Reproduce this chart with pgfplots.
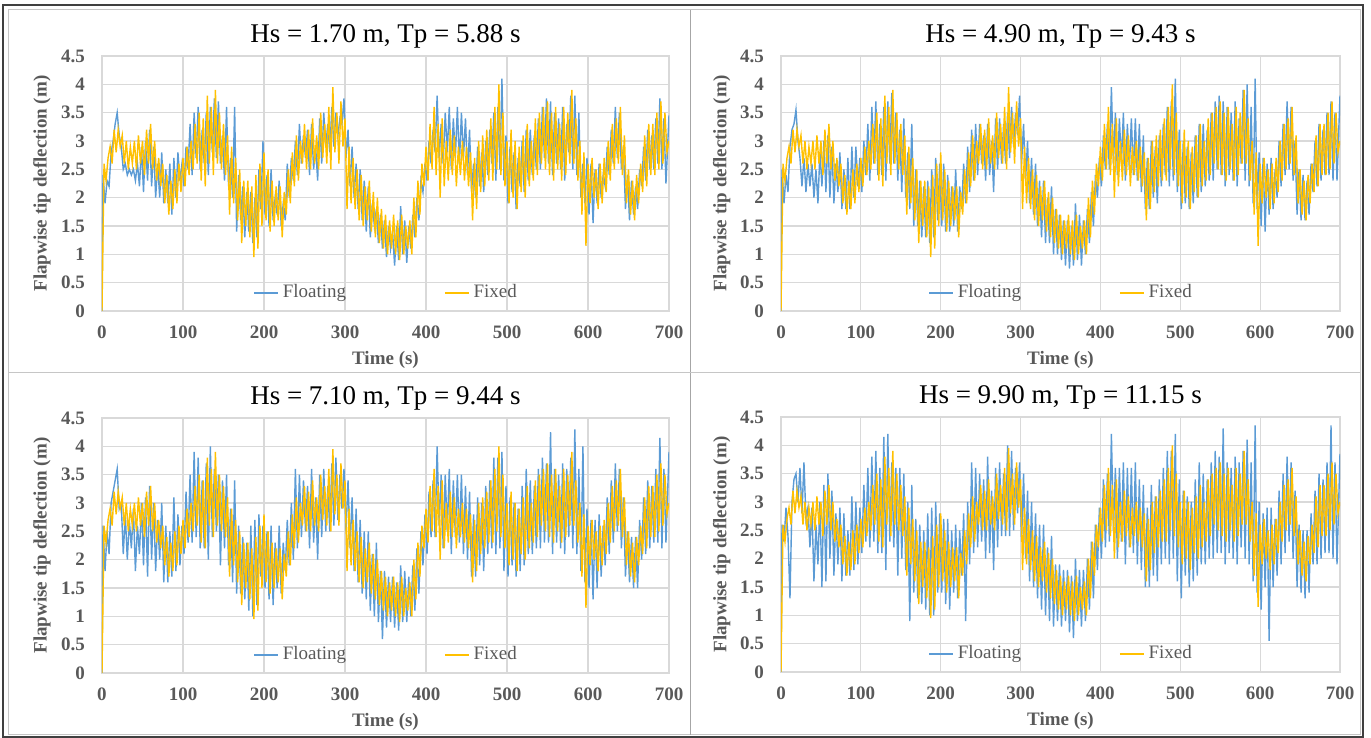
\documentclass[border=0pt]{standalone}
\usepackage{fontspec}
\setmainfont{Liberation Serif}
\usepackage{pgfplots}
\usepackage{pgfplotstable}
\pgfplotsset{compat=1.18}

\definecolor{floatc}{HTML}{5B9BD5}
\definecolor{fixc}{HTML}{FFC000}
\definecolor{gridc}{HTML}{D9D9D9}
\definecolor{labc}{HTML}{595959}

% t = time of fixed, tf = time of floating samples
\pgfplotstableread{
t tf fx fa fb fc fd
0 0 0 0 0 0 0
2.5 1.25 2.6 2.4 2.5 2.6 2.6
5 3.75 2.3 1.9 1.9 1.8 2.3
7.5 6.25 2.7 2.3 2.4 2.5 2.9
10 8.75 2.9 2.2 2.1 2.1 2.4
12.5 11.25 2.6 2.8 2.9 3.0 1.3
15 13.75 3.2 3.0 3.2 3.2 3.0
17.5 16.25 2.8 3.3 3.3 3.4 3.4
20 18.75 3.2 3.5 3.55 3.6 3.5
22.5 21.25 2.9 3.1 3.0 2.9 3.0
25 23.75 3.1 2.9 2.7 3.0 3.6
27.5 26.25 2.6 2.5 2.2 2.1 2.8
30 28.75 3.0 2.6 2.7 2.8 3.7
32.5 31.25 2.5 2.4 2.1 2.0 2.7
35 33.75 2.9 2.5 2.6 2.7 2.9
37.5 36.25 2.6 2.4 2.2 2.2 2.2
40 38.75 3.0 2.5 2.6 2.9 2.9
42.5 41.25 2.5 2.3 2.0 1.8 1.6
45 43.75 3.1 2.6 2.5 2.6 2.6
47.5 46.25 2.6 2.2 1.9 2.1 1.9
50 48.75 3.0 2.9 2.8 3.0 3.0
52.5 51.25 2.4 2.1 2.2 1.9 1.5
55 53.75 3.2 3.0 3.0 3.1 3.3
57.5 56.25 2.6 2.3 2.1 1.7 1.6
60 58.75 3.3 3.2 3.1 3.3 3.5
62.5 61.25 2.5 2.2 2.0 2.0 2.0
65 63.75 3.0 2.9 2.9 3.0 3.2
67.5 66.25 2.3 2.0 1.9 1.8 1.7
70 68.75 2.7 2.6 2.6 2.7 2.8
72.5 71.25 2.2 2.0 2.1 2.0 1.9
75 73.75 2.6 2.8 2.8 3.0 2.9
77.5 76.25 1.9 1.9 1.8 1.6 1.6
80 78.75 2.4 2.5 2.5 2.6 2.8
82.5 81.25 1.7 1.9 1.8 1.6 1.7
85 83.75 2.3 2.6 2.7 2.5 2.5
87.5 86.25 1.8 1.7 1.8 1.7 1.7
90 88.75 2.5 2.7 2.9 3.1 3.1
92.5 91.25 1.9 2.0 2.0 1.8 1.8
95 93.75 2.6 2.8 2.9 2.8 3.0
97.5 96.25 2.1 2.3 2.2 1.9 1.9
100 98.75 2.7 2.6 2.7 2.6 2.9
102.5 101.25 2.2 2.2 2.1 2.1 2.1
105 103.75 2.9 2.9 3.0 3.2 3.3
107.5 106.25 2.4 2.5 2.4 2.3 2.3
110 108.75 3.0 3.3 3.3 3.5 3.6
112.5 111.25 2.5 2.4 2.3 2.3 2.2
115 113.75 3.3 3.5 3.6 3.9 3.8
117.5 116.25 2.6 2.7 2.6 2.4 2.3
120 118.75 3.5 3.6 3.7 3.8 3.9
122.5 121.25 2.3 2.5 2.4 2.2 2.1
125 123.75 3.4 3.2 3.3 3.4 3.6
127.5 126.25 2.2 2.6 2.4 2.2 2.1
130 128.75 3.8 3.5 3.6 3.7 4.15
132.5 131.25 2.6 2.4 2.3 2.0 1.8
135 133.75 3.6 3.6 3.7 4.0 4.2
137.5 136.25 2.4 2.8 2.6 2.4 2.3
140 138.75 3.9 3.75 3.85 3.6 3.7
142.5 141.25 2.6 2.7 2.6 2.5 2.2
145 143.75 3.5 3.7 3.5 3.5 3.6
147.5 146.25 2.5 2.6 2.3 1.9 1.7
150 148.75 3.3 3.1 3.2 3.4 3.6
152.5 151.25 2.4 2.3 2.1 2.2 2.0
155 153.75 3.1 3.6 3.4 3.5 3.5
157.5 156.25 1.7 2.2 2.0 1.9 1.8
160 158.75 2.9 2.7 2.8 2.9 3.0
162.5 161.25 1.9 2.0 1.8 1.6 0.9
165 163.75 2.7 3.6 3.3 3.4 3.3
167.5 166.25 1.6 1.4 1.5 1.4 1.4
170 168.75 2.5 2.4 2.5 2.6 2.7
172.5 171.25 1.2 1.6 1.5 1.4 1.3
175 173.75 2.3 2.2 2.3 2.4 2.6
177.5 176.25 1.5 1.3 1.3 1.3 1.2
180 178.75 2.3 2.1 2.2 2.3 2.5
182.5 181.25 1.3 1.4 1.3 1.1 1.1
185 183.75 2.2 2.1 2.3 2.6 2.8
187.5 186.25 0.95 1.2 1.2 1.0 1.0
190 188.75 2.4 2.0 2.5 2.7 2.9
192.5 191.25 1.1 1.3 1.3 1.2 1.0
195 193.75 2.6 2.5 2.7 2.8 3.0
197.5 196.25 1.5 1.8 1.6 1.7 1.4
200 198.75 2.8 3.0 2.6 2.6 2.8
202.5 201.25 1.6 1.7 1.5 1.5 1.4
205 203.75 2.5 2.4 2.6 2.5 2.7
207.5 206.25 1.4 1.5 1.4 1.3 1.2
210 208.75 2.3 2.5 2.4 2.6 2.7
212.5 211.25 1.5 1.6 1.4 1.2 1.1
215 213.75 2.2 2.0 2.2 2.3 2.5
217.5 216.25 1.6 1.7 1.5 1.5 1.4
220 218.75 2.2 2.3 2.5 2.6 2.6
222.5 221.25 1.3 1.5 1.4 1.4 1.3
225 223.75 2.1 1.9 2.2 2.3 2.5
227.5 226.25 1.7 1.6 1.8 1.8 1.7
230 228.75 2.5 2.6 2.6 2.7 2.8
232.5 231.25 1.9 2.0 1.9 1.9 0.9
235 233.75 2.8 2.7 2.9 3.0 3.0
237.5 236.25 2.2 2.3 2.1 2.0 1.9
240 238.75 3.1 3.0 3.2 3.6 3.7
242.5 241.25 2.3 2.4 2.3 2.2 2.1
245 243.75 3.0 3.3 3.3 3.5 3.6
247.5 246.25 2.6 2.6 2.4 2.4 2.2
250 248.75 3.3 3.1 3.3 3.4 3.5
252.5 251.25 2.5 2.7 2.6 2.5 2.3
255 253.75 3.2 3.2 3.1 3.3 3.4
257.5 256.25 2.5 2.4 2.3 2.2 2.0
260 258.75 3.4 3.3 3.3 3.6 3.8
262.5 261.25 2.6 2.5 2.4 2.3 2.1
265 263.75 3.1 2.9 3.0 3.1 3.2
267.5 266.25 2.5 2.3 2.1 2.0 1.8
270 268.75 3.5 3.4 3.4 3.5 3.6
272.5 271.25 2.7 2.6 2.5 2.4 2.2
275 273.75 3.3 3.5 3.4 3.6 3.7
277.5 276.25 2.6 2.9 2.6 2.5 2.4
280 278.75 3.6 3.3 3.3 3.3 3.5
282.5 281.25 2.5 2.8 2.6 2.5 2.4
285 283.75 3.95 3.6 3.5 3.7 4.0
287.5 286.25 2.8 2.9 2.7 2.6 2.4
290 288.75 3.5 3.5 3.6 3.8 3.9
292.5 291.25 2.6 3.1 2.9 2.7 2.5
295 293.75 3.7 3.4 3.5 3.5 3.6
297.5 296.25 2.9 3.3 3.1 2.9 2.8
300 298.75 3.4 3.75 3.8 3.6 3.7
302.5 301.25 1.8 2.7 2.6 2.5 2.3
305 303.75 2.9 3.2 3.3 3.4 3.5
307.5 306.25 1.9 2.2 2.3 2.2 2.0
310 308.75 2.7 2.9 3.0 3.1 3.2
312.5 311.25 1.8 2.0 1.9 1.8 1.6
315 313.75 2.5 2.6 2.7 2.9 3.0
317.5 316.25 1.6 1.8 1.7 1.6 1.5
320 318.75 2.4 2.5 2.6 2.7 2.8
322.5 321.25 1.5 1.6 1.5 1.4 1.3
325 323.75 2.2 2.3 2.3 2.5 2.6
327.5 326.25 1.6 1.4 1.3 1.3 1.1
330 328.75 2.3 2.2 2.3 2.5 2.6
332.5 331.25 1.4 1.3 1.2 1.1 1.0
335 333.75 2.1 1.9 2.0 2.1 2.2
337.5 336.25 1.3 1.5 1.2 1.0 0.9
340 338.75 2.0 1.8 2.2 2.3 2.4
342.5 341.25 1.2 1.2 1.0 0.9 0.8
345 343.75 1.8 1.7 1.8 1.8 1.9
347.5 346.25 1.1 1.1 1.0 0.6 0.9
350 348.75 1.7 1.6 1.7 1.8 1.9
352.5 351.25 1.0 0.95 0.9 0.8 0.8
355 353.75 1.6 1.5 1.6 1.7 1.8
357.5 356.25 1.1 1.1 0.8 0.9 0.9
360 358.75 1.7 1.4 1.6 1.7 1.8
362.5 361.25 1.0 0.8 0.75 0.8 0.7
365 363.75 1.6 1.5 1.5 1.6 1.7
367.5 366.25 0.9 0.9 0.8 0.75 0.6
370 368.75 1.7 1.85 1.9 1.9 2.0
372.5 371.25 1.0 1.0 0.9 0.9 0.9
375 373.75 1.5 1.6 1.7 1.8 1.8
377.5 376.25 1.1 0.85 0.8 0.9 0.8
380 378.75 1.6 1.5 1.6 1.7 1.8
382.5 381.25 1.0 1.1 1.0 1.0 0.9
385 383.75 2.0 1.7 1.8 1.9 2.0
387.5 386.25 1.3 1.3 1.2 1.1 1.1
390 388.75 2.3 2.0 2.1 2.2 2.3
392.5 391.25 1.7 1.6 1.5 1.4 1.3
395 393.75 2.6 2.3 2.4 2.5 2.6
397.5 396.25 2.2 2.1 2.0 1.9 1.8
400 398.75 2.9 2.6 2.7 2.8 2.9
402.5 401.25 2.3 2.3 2.2 2.1 2.0
405 403.75 3.3 3.0 3.1 3.2 3.4
407.5 406.25 2.5 2.6 2.5 2.4 2.2
410 408.75 3.6 3.2 3.3 3.4 3.5
412.5 411.25 2.4 2.8 2.5 2.4 2.3
415 413.75 3.3 3.8 3.95 4.0 4.2
417.5 416.25 2.0 2.7 2.6 2.6 2.5
420 418.75 3.4 3.3 3.5 3.5 3.6
422.5 421.25 2.2 2.6 2.4 2.2 2.0
425 423.75 3.0 3.5 3.4 3.5 3.6
427.5 426.25 2.3 2.8 2.6 2.5 2.3
430 428.75 3.2 3.6 3.5 3.6 3.7
432.5 431.25 2.4 2.5 2.3 2.1 1.9
435 433.75 3.1 3.4 3.3 3.4 3.6
437.5 436.25 2.2 2.7 2.5 2.4 2.2
440 438.75 2.9 3.6 3.4 3.5 3.6
442.5 441.25 2.4 2.6 2.4 2.3 2.1
445 443.75 3.0 3.5 3.4 3.5 3.7
447.5 446.25 2.3 2.7 2.3 2.1 1.9
450 448.75 2.9 3.4 3.3 3.3 3.4
452.5 451.25 2.2 2.4 2.1 2.0 1.8
455 453.75 2.8 3.2 3.1 3.2 3.3
457.5 456.25 1.6 2.1 1.8 1.7 1.5
460 458.75 2.7 2.6 2.7 2.8 2.9
462.5 461.25 1.8 2.0 1.8 1.7 1.5
465 463.75 3.0 2.9 3.0 3.1 3.3
467.5 466.25 2.1 2.2 2.0 1.9 1.7
470 468.75 3.1 2.8 2.9 3.0 3.1
472.5 471.25 2.2 2.1 1.9 1.8 1.6
475 473.75 3.2 3.0 3.1 3.3 3.4
477.5 476.25 2.3 2.4 2.2 2.1 1.9
480 478.75 3.4 3.2 3.3 3.4 3.6
482.5 481.25 2.3 2.6 2.4 2.2 2.0
485 483.75 3.6 3.5 3.6 3.8 3.9
487.5 486.25 2.5 2.3 2.2 2.1 1.9
490 488.75 4.0 3.6 3.7 3.8 3.9
492.5 491.25 2.4 2.5 2.3 2.2 2.0
495 493.75 3.5 4.1 4.1 3.9 4.2
497.5 496.25 2.2 2.3 2.1 1.8 1.6
500 498.75 3.0 3.1 3.2 3.3 3.4
502.5 501.25 1.9 1.9 1.8 1.7 1.3
505 503.75 3.2 2.9 3.0 3.1 3.2
507.5 506.25 2.0 2.1 1.9 1.9 1.7
510 508.75 3.0 2.8 2.9 3.0 3.1
512.5 511.25 1.8 1.8 1.8 1.7 1.5
515 513.75 2.9 2.7 2.8 2.9 3.0
517.5 516.25 2.1 2.2 1.9 1.8 1.6
520 518.75 3.1 3.0 3.1 3.3 3.4
522.5 521.25 2.0 2.1 2.0 1.9 1.7
525 523.75 3.3 3.2 3.3 3.6 3.7
527.5 526.25 2.2 2.3 2.1 2.1 1.9
530 528.75 3.0 3.2 3.3 3.4 3.5
532.5 531.25 2.3 2.4 2.2 2.1 1.9
535 533.75 3.4 3.1 3.2 3.3 3.4
537.5 536.25 2.4 2.5 2.3 2.2 2.0
540 538.75 3.5 3.4 3.5 3.6 3.7
542.5 541.25 2.6 2.5 2.3 2.2 2.0
545 543.75 3.6 3.6 3.7 3.8 3.9
547.5 546.25 2.5 2.7 2.5 2.3 2.1
550 548.75 3.7 3.75 3.8 3.7 3.8
552.5 551.25 2.4 2.6 2.4 2.3 2.1
555 553.75 3.5 3.7 3.7 4.25 4.3
557.5 556.25 2.3 2.4 2.2 2.1 1.9
560 558.75 3.6 3.5 3.6 3.6 3.7
562.5 561.25 2.5 2.6 2.4 2.3 2.1
565 563.75 3.3 3.4 3.5 3.5 3.6
567.5 566.25 2.3 2.5 2.3 2.2 2.0
570 568.75 3.6 3.6 3.7 3.7 3.8
572.5 571.25 2.4 2.3 2.2 2.1 1.9
575 573.75 3.5 3.3 3.4 3.6 3.7
577.5 576.25 2.6 2.8 2.6 2.4 2.2
580 578.75 3.9 3.8 3.9 3.8 3.9
582.5 581.25 2.6 2.5 2.3 2.2 2.0
585 583.75 3.4 3.8 4.0 4.3 4.1
587.5 586.25 2.3 2.4 2.2 2.1 1.9
590 588.75 3.0 3.5 3.6 3.6 3.7
592.5 591.25 1.7 2.0 1.9 1.8 1.6
595 593.75 2.8 2.6 4.1 4.0 4.35
597.5 596.25 1.15 1.9 1.8 1.6 1.4
600 598.75 2.6 2.7 2.8 2.9 3.0
602.5 601.25 1.9 1.7 1.5 1.5 1.1
605 603.75 2.7 2.6 2.7 2.7 2.8
607.5 606.25 2.0 1.55 1.4 1.3 1.5
610 608.75 2.5 2.5 2.6 2.7 2.9
612.5 611.25 1.8 1.9 1.7 1.5 0.55
615 613.75 2.6 2.6 2.7 2.8 2.9
617.5 616.25 1.9 2.0 1.8 1.7 1.5
620 618.75 2.7 2.4 2.5 2.6 2.7
622.5 621.25 2.1 2.2 2.0 1.9 1.7
625 623.75 3.0 2.9 3.0 3.1 3.2
627.5 626.25 2.3 2.4 2.2 2.1 1.9
630 628.75 3.3 3.2 3.3 3.4 3.5
632.5 631.25 2.5 2.6 2.4 2.3 2.1
635 633.75 3.4 3.6 3.7 3.7 3.8
637.5 636.25 2.6 2.7 2.5 2.5 2.3
640 638.75 3.6 3.5 3.6 3.6 3.7
642.5 641.25 2.4 2.5 2.3 2.2 2.0
645 643.75 3.1 2.9 3.0 3.1 3.2
647.5 646.25 1.9 1.8 1.7 1.7 1.5
650 648.75 2.5 2.4 2.5 2.5 2.6
652.5 651.25 1.7 1.6 1.6 1.6 1.4
655 653.75 2.3 2.3 2.4 2.4 2.5
657.5 656.25 1.6 1.7 1.6 1.5 1.3
660 658.75 2.4 2.2 2.3 2.4 2.5
662.5 661.25 1.9 1.8 1.7 1.5 1.4
665 663.75 2.6 2.5 2.6 2.7 2.8
667.5 666.25 2.1 2.2 2.1 2.0 1.9
670 668.75 3.1 2.9 3.0 3.1 3.2
672.5 671.25 2.2 2.3 2.2 2.1 1.9
675 673.75 3.3 3.2 3.3 3.4 3.5
677.5 676.25 2.4 2.5 2.3 2.2 2.0
680 678.75 3.3 3.1 3.2 3.3 3.4
682.5 681.25 2.4 2.5 2.4 2.3 2.1
685 683.75 3.5 3.4 3.5 3.6 3.7
687.5 686.25 2.5 2.6 2.4 2.3 2.1
690 688.75 3.7 3.75 3.7 4.15 4.35
692.5 691.25 2.6 2.5 2.3 2.2 2.0
695 693.75 3.5 3.4 3.5 3.6 3.7
697.5 696.25 2.8 2.25 2.3 2.3 1.9
700 700 3.0 3.45 3.8 3.9 3.85
}\data

\pgfplotsset{
  panel/.style={
    scale only axis, height=127.5pt,
    xmin=0, xmax=700, ymin=0, ymax=4.5,
    xtick={0,100,...,700}, ytick={0,0.5,...,4.5},
    grid=major, major grid style={draw=gridc, line width=0.6pt},
    axis line style={draw=gridc, line width=0.6pt},
    major tick length=0pt,
    /pgf/number format/assume math mode=true,
    tick label style={font=\fontsize{9.5}{11}\selectfont\bfseries, text=labc},
    xticklabel style={yshift=-4pt},
    yticklabel style={xshift=-5pt},
    xlabel={Time (s)}, ylabel={Flapwise tip deflection (m)},
    label style={font=\fontsize{9.5}{11}\selectfont\bfseries, text=labc},
    xlabel style={at={(axis description cs:0.5,-0.19)}, anchor=center},
    ylabel style={at={(axis description cs:-0.106,0.5)}, anchor=center},
    every axis title/.style={at={(axis description cs:0.5,1)}, anchor=center,
      yshift=10pt, font=\fontsize{13.5}{16}\selectfont},
    legend style={at={(axis cs:352,0.32)}, anchor=center, draw=none, fill=none,
      font=\fontsize{9.5}{11}\selectfont, text=labc, inner sep=0pt,
      /tikz/every even column/.append style={column sep=47pt}},
    legend columns=2,
    legend image code/.code={\draw[#1] (0pt,0pt) -- (12pt,0pt);},
    every axis plot/.append style={line width=0.7pt},
  }
}

\begin{document}
\begin{tikzpicture}
\useasboundingbox (0,0) rectangle (685.5pt,369pt);
\draw[draw=gray!45, line width=0.5pt] (4pt,364pt) rectangle (680pt,1.5pt);
\draw[draw=gray!70, line width=0.5pt] (345.25pt,364pt) -- (345.25pt,1.5pt);
\draw[draw=gray!45, line width=0.5pt] (4pt,182.75pt) -- (680pt,182.75pt);
\draw[draw=black!75, line width=0.8pt] (1.5pt,366.5pt) rectangle (681.5pt,0.5pt);

\begin{axis}[panel, width=283.5pt, at={(51pt,213.5pt)}, anchor=south west,
  title={Hs = 1.70 m, Tp = 5.88 s}]
\addplot[floatc] table[x=tf, y=fa] {\data};
\addplot[fixc] table[x=t, y=fx] {\data};
\legend{Floating, Fixed}
\end{axis}

\begin{axis}[panel, width=279.5pt, at={(390.5pt,213.5pt)}, anchor=south west,
  title={Hs = 4.90 m, Tp = 9.43 s}]
\addplot[floatc] table[x=tf, y=fb] {\data};
\addplot[fixc] table[x=t, y=fx] {\data};
\legend{Floating, Fixed}
\end{axis}

\begin{axis}[panel, width=283.5pt, at={(51pt,32.5pt)}, anchor=south west,
  title={Hs = 7.10 m, Tp = 9.44 s}]
\addplot[floatc] table[x=tf, y=fc] {\data};
\addplot[fixc] table[x=t, y=fx] {\data};
\legend{Floating, Fixed}
\end{axis}

\begin{axis}[panel, width=279.5pt, at={(390.5pt,33pt)}, anchor=south west,
  title={Hs = 9.90 m, Tp = 11.15 s}]
\addplot[floatc] table[x=tf, y=fd] {\data};
\addplot[fixc] table[x=t, y=fx] {\data};
\legend{Floating, Fixed}
\end{axis}
\end{tikzpicture}
\end{document}
